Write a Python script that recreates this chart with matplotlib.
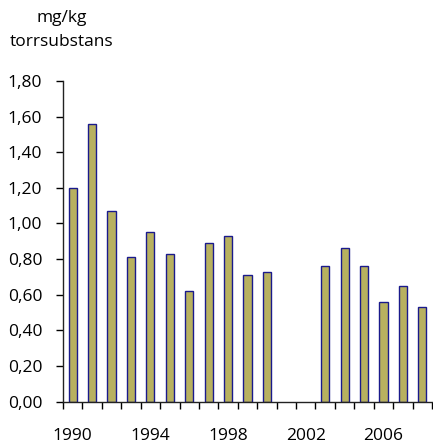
import matplotlib.pyplot as plt
from matplotlib.ticker import FixedLocator, FuncFormatter

years = list(range(1990, 2009))
values = [1.20, 1.56, 1.07, 0.81, 0.95, 0.83, 0.62, 0.89, 0.93, 0.71, 0.73,
          None, None, 0.76, 0.86, 0.76, 0.56, 0.65, 0.53]
label_years = [1990, 1994, 1998, 2002, 2006]
yticks = [0.0, 0.2, 0.4, 0.6, 0.8, 1.0, 1.2, 1.4, 1.6, 1.8]

plt.rcParams["font.family"] = ["Open Sans", "DejaVu Sans"]

fig = plt.figure(figsize=(4.33, 4.46), dpi=100)
ax = fig.add_axes([63 / 433, 44.5 / 446, 369 / 433, 320.5 / 446])

xs = [i for i, v in enumerate(values) if v is not None]
hs = [v for v in values if v is not None]
ax.bar(xs, hs, width=0.42, color="#b8b15f", edgecolor="#1a1a8c", linewidth=1.0)

ax.set_xlim(-0.5, len(years) - 0.5)
ax.set_ylim(0, 1.8)

ax.set_yticks(yticks)
ax.yaxis.set_major_formatter(FuncFormatter(lambda v, p: f"{v:.2f}".replace(".", ",")))
ax.tick_params(axis="y", direction="out", length=5, width=1, pad=10, labelsize=12.5)

ax.set_xticks([years.index(y) for y in label_years])
ax.set_xticklabels([str(y) for y in label_years])
ax.xaxis.set_minor_locator(FixedLocator([i - 0.5 for i in range(len(years) + 1)]))
ax.tick_params(axis="x", which="major", length=0, pad=19, labelsize=12.5)
ax.tick_params(axis="x", which="minor", direction="out", length=5, width=1)

for s in ["top", "right"]:
    ax.spines[s].set_visible(False)
for s in ["left", "bottom"]:
    ax.spines[s].set_linewidth(1)
    ax.spines[s].set_color("#222222")

fig.text(62 / 433, 1 - 18 / 446, "mg/kg", ha="center", va="center", fontsize=12.5)
fig.text(62 / 433, 1 - 42 / 446, "torrsubstans", ha="center", va="center", fontsize=12.5)

fig.savefig("out.png", dpi=100)
